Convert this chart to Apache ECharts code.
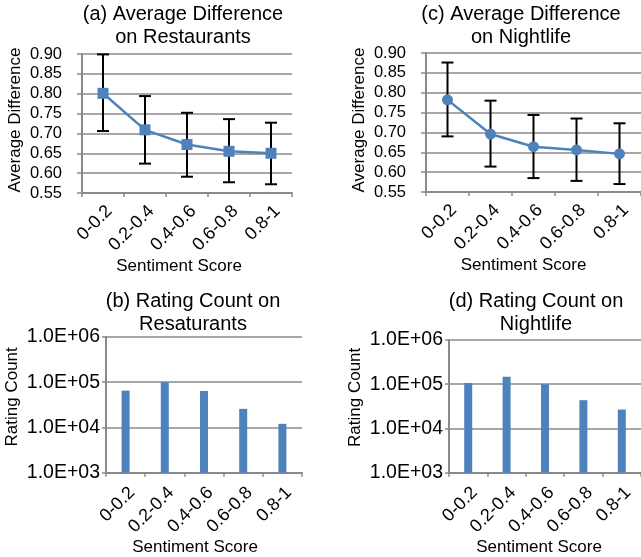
<!DOCTYPE html>
<html>
<head>
<meta charset="utf-8">
<script src="https://cdn.jsdelivr.net/npm/echarts@6/dist/echarts.min.js"></script>
<style>
  html, body { margin: 0; padding: 0; background: #fff; }
  #chart { width: 641px; height: 557px; }
</style>
</head>
<body>
<div id="chart"></div>
<script>
// Sentiment score bins
const categories = ['0-0.2', '0.2-0.4', '0.4-0.6', '0.6-0.8', '0.8-1'];

// (a) Restaurants: average difference with error bars
const restDiff = [0.801, 0.709, 0.672, 0.655, 0.650];
const restDiffLow = [0.706, 0.624, 0.591, 0.577, 0.572];
const restDiffHigh = [0.899, 0.794, 0.752, 0.736, 0.727];

// (c) Nightlife: average difference with error bars
const nightDiff = [0.782, 0.696, 0.664, 0.656, 0.646];
const nightDiffLow = [0.690, 0.614, 0.585, 0.578, 0.570];
const nightDiffHigh = [0.876, 0.780, 0.744, 0.735, 0.723];

// (b) / (d) rating counts
const restCount = [65000, 100000, 64000, 25700, 12000];
const nightCount = [107000, 147000, 100000, 43500, 26700];

// axis ticks
const diffTicks = [0.55, 0.60, 0.65, 0.70, 0.75, 0.80, 0.85, 0.90];
const countTicks = [1e3, 1e4, 1e5, 1e6];

const FONT = "'Liberation Sans', Arial, sans-serif";
const BLUE = '#4F81BD';
const GRAY = '#8a8a8a';

const chart = echarts.init(document.getElementById('chart'));

function errorBarItem(params, api) {
  const x = api.value(0);
  const lo = api.coord([x, api.value(1)]);
  const hi = api.coord([x, api.value(2)]);
  const half = 6;
  const style = { stroke: '#000', lineWidth: 2 };
  return {
    type: 'group',
    children: [
      { type: 'line', shape: { x1: hi[0], y1: hi[1], x2: lo[0], y2: lo[1] }, style },
      { type: 'line', shape: { x1: hi[0] - half, y1: hi[1], x2: hi[0] + half, y2: hi[1] }, style },
      { type: 'line', shape: { x1: lo[0] - half, y1: lo[1], x2: lo[0] + half, y2: lo[1] }, style }
    ]
  };
}

function catAxis(gridIndex, namePad) {
  const top = gridIndex < 2;
  return {
    type: 'category',
    gridIndex,
    data: categories,
    boundaryGap: true,
    name: 'Sentiment Score',
    nameLocation: 'middle',
    nameGap: top ? 55 : 61,
    nameTextStyle: { fontFamily: FONT, fontSize: 17, color: '#000', padding: [0, namePad, 0, 0] },
    axisLine: { lineStyle: { color: GRAY, width: 2 } },
    axisTick: { show: true, length: 4, lineStyle: { color: GRAY, width: 1.5 } },
    axisLabel: {
      rotate: 45, margin: top ? 9 : 11, align: 'right', verticalAlign: 'top',
      fontFamily: FONT, fontSize: 18, color: '#000'
    },
    splitLine: { show: false }
  };
}

function diffAxis(gridIndex, namePad) {
  return {
    type: 'value',
    gridIndex,
    min: diffTicks[0],
    max: diffTicks[diffTicks.length - 1],
    interval: 0.05,
    name: 'Average Difference',
    nameLocation: 'middle',
    nameGap: 58,
    nameTextStyle: { fontFamily: FONT, fontSize: 17, color: '#000', padding: [0, 0, 0, namePad] },
    axisLine: { show: true, lineStyle: { color: GRAY, width: 2 } },
    axisTick: { show: true, length: 5, lineStyle: { color: GRAY, width: 1.5 } },
    axisLabel: {
      margin: 20, fontFamily: FONT, fontSize: 16.5, color: '#000',
      formatter: v => v.toFixed(2)
    },
    splitLine: { lineStyle: { color: GRAY, width: 1.5 } }
  };
}

function countAxis(gridIndex, namePad) {
  return {
    type: 'log',
    gridIndex,
    logBase: 10,
    min: countTicks[0],
    max: countTicks[countTicks.length - 1],
    name: 'Rating Count',
    nameLocation: 'middle',
    nameGap: 85,
    nameTextStyle: { fontFamily: FONT, fontSize: 17, color: '#000', padding: [0, 0, 0, namePad] },
    axisLine: { show: true, lineStyle: { color: GRAY, width: 2 } },
    axisTick: { show: true, length: 4, lineStyle: { color: GRAY, width: 1.5 } },
    axisLabel: {
      margin: 6, fontFamily: FONT, fontSize: 19.5, color: '#000',
      formatter: v => '1.0E+' + String(Math.round(Math.log10(v))).padStart(2, '0')
    },
    splitLine: { lineStyle: { color: GRAY, width: 1.5 } }
  };
}

const titleStyle = { fontFamily: FONT, fontSize: 20, fontWeight: 'normal', color: '#000', lineHeight: 23 };

const option = {
  animation: false,
  backgroundColor: '#fff',
  title: [
    { text: '(a) Average Difference\non Restaurants', left: 178, top: -2, textAlign: 'center', textStyle: titleStyle },
    { text: '(c) Average Difference\non Nightlife', left: 516, top: -2, textAlign: 'center', textStyle: titleStyle },
    { text: '(b) Rating Count on\nResaturants', left: 188, top: 285, textAlign: 'center', textStyle: titleStyle },
    { text: '(d) Rating Count on\nNightlife', left: 531, top: 285, textAlign: 'center', textStyle: titleStyle }
  ],
  grid: [
    { left: 82, top: 54, width: 210, height: 139 },
    { left: 426, top: 53, width: 219, height: 139 },
    { left: 106, top: 337, width: 196, height: 139 },
    { left: 449, top: 340, width: 195, height: 136 }
  ],
  xAxis: [catAxis(0, 16), catAxis(1, 20), catAxis(2, 18), catAxis(3, 12)],
  yAxis: [diffAxis(0, 7), diffAxis(1, 5), countAxis(2, 16), countAxis(3, 18)],
  series: [
    {
      type: 'custom', xAxisIndex: 0, yAxisIndex: 0, z: 2,
      renderItem: errorBarItem,
      encode: { x: 0, y: [1, 2] },
      data: categories.map((c, i) => [i, restDiffLow[i], restDiffHigh[i]])
    },
    {
      type: 'line', xAxisIndex: 0, yAxisIndex: 0, z: 3,
      data: restDiff,
      symbol: 'rect', symbolSize: 11,
      lineStyle: { color: BLUE, width: 2.5 },
      itemStyle: { color: BLUE }
    },
    {
      type: 'custom', xAxisIndex: 1, yAxisIndex: 1, z: 2,
      renderItem: errorBarItem,
      encode: { x: 0, y: [1, 2] },
      data: categories.map((c, i) => [i, nightDiffLow[i], nightDiffHigh[i]])
    },
    {
      type: 'line', xAxisIndex: 1, yAxisIndex: 1, z: 3,
      data: nightDiff,
      symbol: 'circle', symbolSize: 11,
      lineStyle: { color: BLUE, width: 2.5 },
      itemStyle: { color: BLUE }
    },
    {
      type: 'bar', xAxisIndex: 2, yAxisIndex: 2,
      data: restCount, barWidth: 8, clip: true,
      itemStyle: { color: BLUE }
    },
    {
      type: 'bar', xAxisIndex: 3, yAxisIndex: 3,
      data: nightCount, barWidth: 8, clip: true,
      itemStyle: { color: BLUE }
    }
  ]
};

chart.setOption(option);
</script>
</body>
</html>
